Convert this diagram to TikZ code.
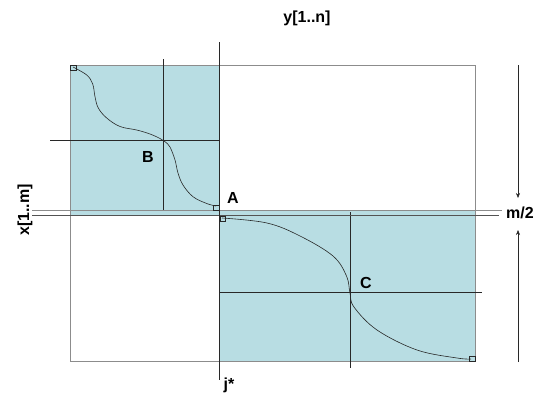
\documentclass[tikz,border=0pt]{standalone}
\usepackage{fontspec}
\setmainfont{Liberation Sans}
\usetikzlibrary{arrows.meta}
\definecolor{cellblue}{RGB}{184,221,227}
\definecolor{edgegray}{RGB}{140,140,140}
\definecolor{inkline}{RGB}{40,40,40}
\tikzset{
  lbl/.style={font=\bfseries\fontsize{16}{16}\selectfont, inner sep=0pt},
  gridline/.style={draw=inkline, line width=0.6pt},
  curveline/.style={draw=inkline, line width=0.6pt},
  marker/.style={draw=inkline, line width=0.4pt},
  dimarrow/.style={draw=inkline, line width=0.5pt, -{Stealth[length=5pt,width=4pt]}},
}
\begin{document}
\begin{tikzpicture}[x=1pt,y=-1pt]
\useasboundingbox (0,0) rectangle (552,397);
% regions
\fill[white] (70,65) rectangle (475,361);
\fill[cellblue] (70,65) rectangle (219.5,215.5);
\fill[cellblue] (219.5,210.5) rectangle (475,361);
\fill[cellblue] (70,210.5) rectangle (475,215.5);
\draw[edgegray, line width=0.6pt] (70,65) rectangle (475,361);
% inner lines of quadrants
\draw[gridline] (163,59) -- (163,210.5);
\draw[gridline] (50,140.5) -- (219.5,140.5);
\draw[gridline] (350.5,212) -- (350.5,368);
\draw[gridline] (219.5,292.5) -- (482,292.5);
% middle double line
\draw[edgegray, line width=0.7pt] (32,210.5) -- (502,210.5);
\draw[inkline!80, line width=0.6pt] (32,215.5) -- (499,215.5);
% j* line
\draw[inkline, line width=0.9pt] (219.5,42) -- (219.5,380);
% curves
\draw[curveline] plot[smooth, tension=0.6] coordinates {(73,67) (86.7,75) (92.7,84) (95,96.7) (98.3,108) (106.7,118) (120,126.5) (136.7,130) (150,134) (160,138.5) (165,141.7) (170,147) (175,160) (178,173) (183,185) (193,196.7) (206.7,203.5) (216,206)};
\draw[curveline] plot[smooth, tension=0.6] coordinates {(222,218) (267,223) (300,236) (333,256) (346.5,276) (350,293) (354,307) (377,330) (417,350) (457,358) (471,359)};
% small squares
\draw[marker] (70,65) rectangle (76,70);
\draw[marker] (213,205) rectangle (219,210);
\draw[marker] (220,216.5) rectangle (225,221);
\draw[marker] (469,356.5) rectangle (475,361);
% labels
\node[lbl] (ylab) at (307,18) {y[1..n]};
\node[lbl, rotate=90] (xlab) at (25,210) {x[1..m]};
\node[lbl] (blab) at (148,157) {B};
\node[lbl] (alab) at (233,198) {A};
\node[lbl] (clab) at (366,283) {C};
\node[lbl, anchor=west] (mlab) at (506,212.5) {m/2};
\node[lbl] (jlab) at (229,385) {j*};
% side arrows
\coordinate (dtop) at (518,65);
\coordinate (dbot) at (518,198);
\coordinate (utop) at (518,230);
\coordinate (ubot) at (518,362);
\draw[dimarrow] (dtop) -- (dbot);
\draw[dimarrow] (ubot) -- (utop);
\end{tikzpicture}
\end{document}
